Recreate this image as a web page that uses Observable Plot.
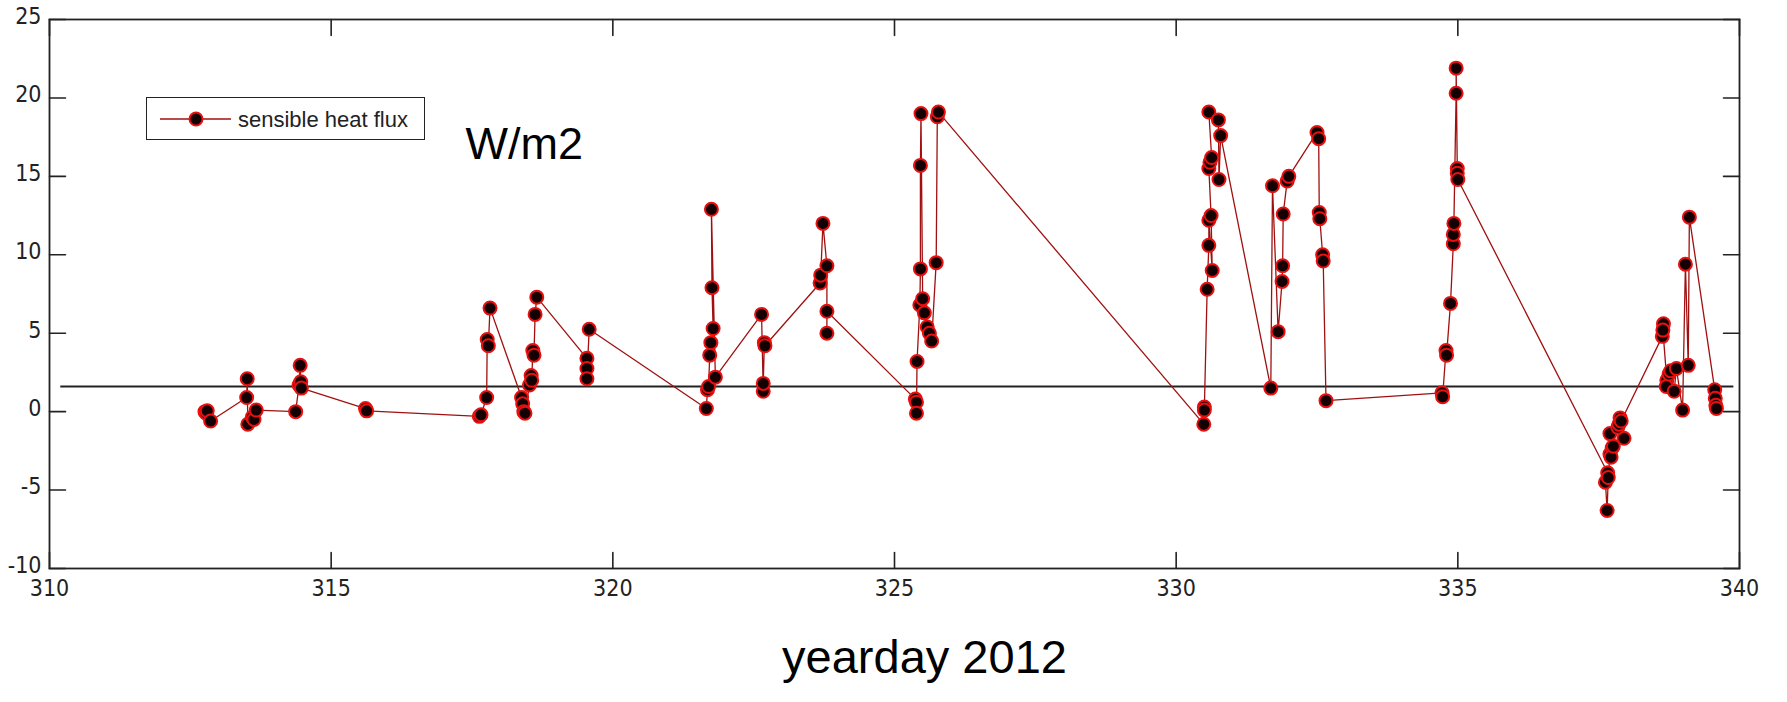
<!DOCTYPE html>
<html><head><meta charset="utf-8">
<script src="https://cdn.jsdelivr.net/npm/d3@7"></script>
<script src="https://cdn.jsdelivr.net/npm/@observablehq/plot@0.6"></script>
<style>
html,body{margin:0;padding:0;background:#fff;}
#wrap{position:relative;width:1787px;height:702px;font-family:"Liberation Sans",Arial,sans-serif;}
#legend{position:absolute;left:146px;top:97px;width:279px;height:43px;border:1.5px solid #222;background:#fff;box-sizing:border-box;}
#legend svg{display:block;}
</style></head><body>
<div id="wrap"></div>
<script>
// ---- data ----
const days = [
  312.76, 312.78, 312.80, 312.86,
  313.50, 313.51, 313.52, 313.60, 313.63, 313.67,
  314.37, 314.43, 314.45, 314.46, 314.47,
  315.61, 315.63,
  317.63, 317.66, 317.76, 317.77, 317.79, 317.82,
  318.38, 318.40, 318.42, 318.44, 318.52, 318.55, 318.56, 318.58, 318.60, 318.62, 318.65,
  319.54, 319.54, 319.54, 319.58,
  321.66, 321.68, 321.70, 321.72, 321.74, 321.78, 321.76, 321.75, 321.82,
  322.64, 322.67, 322.67, 322.69, 322.70,
  323.68, 323.69, 323.73, 323.80, 323.80, 323.80,
  325.37, 325.39, 325.39, 325.40, 325.45, 325.46, 325.46, 325.47, 325.50, 325.53, 325.58, 325.62, 325.66, 325.74, 325.76, 325.78,
  330.49, 330.50, 330.50, 330.55, 330.58, 330.58, 330.64, 330.62, 330.58, 330.60, 330.63, 330.58, 330.75, 330.76, 330.79,
  331.68, 331.71, 331.81, 331.88, 331.89, 331.90, 331.97, 332.00,
  332.50, 332.53, 332.54, 332.55, 332.60, 332.61, 332.66,
  334.72, 334.73, 334.79, 334.80, 334.87, 334.92, 334.92, 334.93, 334.97, 334.97, 334.99, 334.99, 335.00,
  337.66, 337.62, 337.65, 337.67, 337.70, 337.74, 337.72, 337.70, 337.76, 337.95, 337.84, 337.86, 337.88, 337.90,
  338.63, 338.65, 338.64, 338.71, 338.70, 338.75, 338.78, 338.84, 338.88, 338.99, 339.04, 339.09, 339.11,
  339.56, 339.57, 339.58, 339.59
];
const flux = [
  0.0, -0.1, 0.05, -0.6,
  0.9, 2.1, -0.8, -0.35, -0.5, 0.1,
  0.0, 1.7, 2.95, 1.9, 1.5,
  0.2, 0.05,
  -0.3, -0.2, 0.9, 4.6, 4.2, 6.6,
  0.9, 0.5, 0.0, -0.1, 1.7, 2.3, 2.0, 3.9, 3.6, 6.2, 7.3,
  3.4, 2.75, 2.1, 5.25,
  0.2, 1.4, 1.6, 3.6, 4.4, 5.3, 7.9, 12.9, 2.2,
  6.2, 1.3, 1.8, 4.4, 4.2,
  8.2, 8.7, 12.0, 9.3, 5.0, 6.4,
  0.8, 0.6, -0.1, 3.2, 6.8, 9.1, 15.7, 19.0, 7.2, 6.3, 5.4, 5.0, 4.5, 9.5, 18.8, 19.1,
  -0.8, 0.3, 0.1, 7.8, 10.6, 12.2, 9.0, 12.5, 15.5, 15.9, 16.2, 19.1, 18.6, 14.8, 17.6,
  1.5, 14.4, 5.1, 8.3, 9.3, 12.6, 14.7, 15.0,
  17.8, 17.4, 12.7, 12.3, 10.0, 9.6, 0.7,
  1.2, 0.95, 3.9, 3.6, 6.9, 10.7, 11.3, 12.0, 20.3, 21.9, 15.5, 15.2, 14.8,
  -3.9, -4.5, -6.3, -4.2, -2.7, -2.3, -2.9, -1.4, -2.2, -1.7, -1.0, -0.8, -0.4, -0.6,
  4.8, 5.6, 5.2, 2.0, 1.6, 2.4, 2.6, 1.3, 2.75, 0.1, 9.4, 2.95, 12.4,
  1.4, 0.85, 0.4, 0.2
];
const xTicks = [310, 315, 320, 325, 330, 335, 340];
const yTicks = [-10, -5, 0, 5, 10, 15, 20, 25];
const meanFlux = [1.6];
const meanSpan = [310.2, 339.9];
const seriesName = "sensible heat flux";
const unitLabel = "W/m2";
const xLabel = "yearday 2012";

// ---- build ----
const points = days.map((d, i) => ({day: d, flux: flux[i]}));
const lineColor = "#a01010";
const dotFill = "#140000";
const dotStroke = "#e81010";
const axisColor = "#222";
const tickFont = "'Liberation Sans Narrow', 'DejaVu Sans Condensed', 'Liberation Sans', Arial, sans-serif";
const tickShape = {draw(context, l) { context.moveTo(0, 0); context.lineTo(0, -l); }};
const tickLen = 16;

const chart = Plot.plot({
  width: 1787,
  height: 702,
  marginLeft: 49,
  marginRight: 48,
  marginTop: 19,
  marginBottom: 134,
  style: {fontFamily: "'Liberation Sans', Arial, sans-serif", color: "#222", background: "#fff"},
  x: {domain: [310, 340]},
  y: {domain: [-10, 25]},
  marks: [
    Plot.axisX({ticks: xTicks, tickSize: 0, tickPadding: 11, fontSize: 23, fontFamily: tickFont, label: null, tickFormat: d => String(d)}),
    Plot.axisY({ticks: yTicks, tickSize: 0, tickPadding: 8, dy: -3, fontSize: 23, fontFamily: tickFont, label: null, tickFormat: d => String(d)}),
    Plot.vector(xTicks, {x: d => d, frameAnchor: "bottom", length: tickLen, rotate: 0, anchor: "start", shape: tickShape, stroke: axisColor, strokeWidth: 1.6, fill: "none"}),
    Plot.vector(xTicks, {x: d => d, frameAnchor: "top", length: tickLen, rotate: 180, anchor: "start", shape: tickShape, stroke: axisColor, strokeWidth: 1.6, fill: "none"}),
    Plot.vector(yTicks, {y: d => d, frameAnchor: "left", length: tickLen, rotate: 90, anchor: "start", shape: tickShape, stroke: axisColor, strokeWidth: 1.6, fill: "none"}),
    Plot.vector(yTicks, {y: d => d, frameAnchor: "right", length: tickLen, rotate: -90, anchor: "start", shape: tickShape, stroke: axisColor, strokeWidth: 1.6, fill: "none"}),
    Plot.ruleY(meanFlux, {y: d => d, x1: meanSpan[0], x2: meanSpan[1], stroke: axisColor, strokeWidth: 2}),
    Plot.line(points, {x: "day", y: "flux", stroke: lineColor, strokeWidth: 1.3}),
    Plot.dot(points, {x: "day", y: "flux", r: 6.5, fill: dotFill, stroke: dotStroke, strokeWidth: 2}),
    Plot.frame({stroke: axisColor, strokeWidth: 1.8}),
    Plot.text([unitLabel], {text: d => d, frameAnchor: "top-left", textAnchor: "start", dx: 416, dy: 108, fontSize: 45, fill: "#000"}),
    Plot.text([xLabel], {text: d => d, frameAnchor: "bottom", textAnchor: "middle", dx: 30, dy: 104, fontSize: 47, fill: "#000"})
  ]
});

const wrap = document.getElementById("wrap");
wrap.appendChild(chart);

// legend
const legend = document.createElement("div");
legend.id = "legend";
legend.innerHTML = `<svg width="276" height="40" xmlns="http://www.w3.org/2000/svg">
  <line x1="13" x2="84" y1="21" y2="21" stroke="${lineColor}" stroke-width="1.3"/>
  <circle cx="49" cy="21" r="6.5" fill="${dotFill}" stroke="${dotStroke}" stroke-width="2"/>
  <text x="91" y="29" font-size="22" font-family="'Liberation Sans', Arial, sans-serif" fill="#222">${seriesName}</text>
</svg>`;
wrap.appendChild(legend);
</script>
</body></html>
